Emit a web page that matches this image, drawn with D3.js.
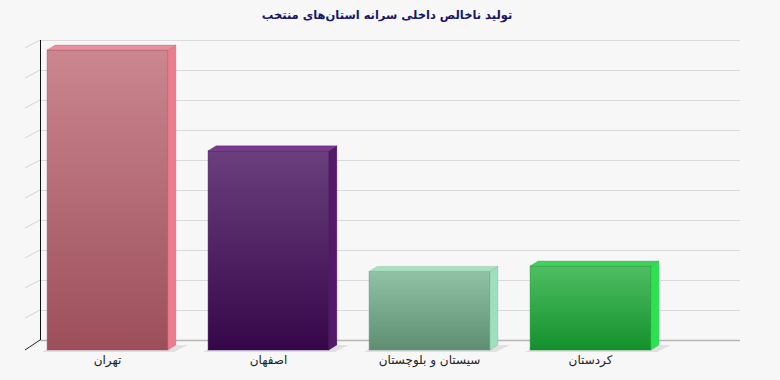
<!DOCTYPE html>
<html>
<head>
<meta charset="utf-8">
<script src="https://cdn.jsdelivr.net/npm/d3@7"></script>
<style>
  html, body { margin: 0; padding: 0; background: #f7f7f7; }
  svg { display: block; font-family: "DejaVu Sans", Tahoma, sans-serif; }
</style>
</head>
<body>
<div id="chart"></div>
<script>
// Data
const provinces = ["تهران", "اصفهان", "سیستان و بلوچستان", "کردستان"];
const values = [100, 66.4, 26.2, 28];
const frontColors = [["#cb8690", "#9c4f5a"], ["#6a3f7c", "#36064a"], ["#92c2a6", "#5d8e72"], ["#4fbe63", "#13902c"]];
const sideColors = ["#ea7c8d", "#55196a", "#9de0bb", "#2ce24f"];
const topColors = ["#e98f9b", "#79398f", "#a6e1c0", "#3fd35d"];
const title = "تولید ناخالص داخلی سرانه استان‌های منتخب";

(function() {
const W = 780, H = 380;
const wallLeft = 40, wallRight = 740, wallTop = 40, wallBottom = 340;
const depthX = 15, depthY = 10;   // depth of the floor / side wall
const barDX = 8, barDY = 5;       // depth of each bar

const svg = d3.select("#chart")
  .append("svg")
  .attr("width", W)
  .attr("height", H);

const defs = svg.append("defs");
frontColors.forEach((c, i) => {
  const g = defs.append("linearGradient")
    .attr("id", "grad" + i)
    .attr("x1", 0).attr("y1", 0).attr("x2", 0).attr("y2", 1);
  g.append("stop").attr("offset", "0%").attr("stop-color", c[0]);
  g.append("stop").attr("offset", "100%").attr("stop-color", c[1]);
});

// Title
svg.append("text")
  .attr("x", 387)
  .attr("y", 19)
  .attr("text-anchor", "middle")
  .attr("direction", "rtl")
  .style("font-size", "11.5px")
  .style("font-weight", "bold")
  .attr("fill", "#16166a")
  .text(title);

// Scales
const yWall = d3.scaleLinear().domain([0, 100]).range([wallBottom, wallTop]);
const yFront = d3.scaleLinear().domain([0, 100]).range([wallBottom + depthY, wallTop + depthY]);
const x = d3.scaleBand()
  .domain(provinces)
  .range([27, 671])
  .paddingInner(0.25)
  .paddingOuter(0.125);

// Back wall gridlines
const ticks = yWall.ticks(10);
svg.append("g").selectAll("line")
  .data(ticks)
  .enter()
  .append("line")
  .attr("x1", wallLeft)
  .attr("x2", wallRight)
  .attr("y1", d => yWall(d) + 0.5)
  .attr("y2", d => yWall(d) + 0.5)
  .attr("stroke", d => d === 0 ? "#b4b4b4" : "#dadada")
  .attr("stroke-width", d => d === 0 ? 1.5 : 1.2);

// Side wall gridlines (diagonal)
svg.append("g").selectAll("line")
  .data(ticks.filter(d => d > 0))
  .enter()
  .append("line")
  .attr("x1", wallLeft - depthX)
  .attr("x2", wallLeft)
  .attr("y1", d => yWall(d) + depthY - 2)
  .attr("y2", d => yWall(d))
  .attr("stroke", "#d4d4d4")
  .attr("stroke-width", 1);

// Axis lines
svg.append("line")
  .attr("x1", wallLeft + 0.5).attr("x2", wallLeft + 0.5)
  .attr("y1", wallTop).attr("y2", wallBottom)
  .attr("stroke", "#111").attr("stroke-width", 1);
svg.append("line")
  .attr("x1", wallLeft - depthX).attr("y1", wallBottom + depthY)
  .attr("x2", wallLeft).attr("y2", wallBottom)
  .attr("stroke", "#222").attr("stroke-width", 1);

// Bars
const bars = svg.append("g").selectAll("g")
  .data(provinces)
  .enter()
  .append("g");

const bw = x.bandwidth();
const base = yFront(0);

// shadow
bars.append("polygon")
  .attr("points", d => {
    const x0 = x(d);
    return [[x0 - 5, base + 2], [x0 + bw + 6, base + 2], [x0 + bw + barDX + 12, base - barDY], [x0 + barDX, base - barDY]].join(" ");
  })
  .attr("fill", "#e0e0e0");

// front face
bars.append("rect")
  .attr("x", d => x(d))
  .attr("y", (d, i) => yFront(values[i]))
  .attr("width", bw)
  .attr("height", (d, i) => base - yFront(values[i]))
  .attr("fill", (d, i) => `url(#grad${i})`)
  .attr("stroke", (d, i) => frontColors[i][1])
  .attr("stroke-opacity", 0.6)
  .attr("stroke-width", 0.8);

// side face
bars.append("polygon")
  .attr("points", (d, i) => {
    const x1 = x(d) + bw, yt = yFront(values[i]);
    return [[x1, yt], [x1 + barDX, yt - barDY], [x1 + barDX, base - barDY], [x1, base]].join(" ");
  })
  .attr("fill", (d, i) => sideColors[i])
  .attr("stroke", (d, i) => frontColors[i][1])
  .attr("stroke-opacity", 0.4)
  .attr("stroke-width", 0.6);

// top face
bars.append("polygon")
  .attr("points", (d, i) => {
    const x0 = x(d), yt = yFront(values[i]);
    return [[x0, yt], [x0 + barDX, yt - barDY], [x0 + bw + barDX, yt - barDY], [x0 + bw, yt]].join(" ");
  })
  .attr("fill", (d, i) => topColors[i])
  .attr("stroke", (d, i) => frontColors[i][1])
  .attr("stroke-opacity", 0.4)
  .attr("stroke-width", 0.6);

// Category labels
svg.append("g").selectAll("text")
  .data(provinces)
  .enter()
  .append("text")
  .attr("x", d => x(d) + bw / 2)
  .attr("y", 364)
  .attr("text-anchor", "middle")
  .attr("direction", "rtl")
  .style("font-size", "12px")
  .attr("fill", "#222")
  .text(d => d);
})();
</script>
</body>
</html>
